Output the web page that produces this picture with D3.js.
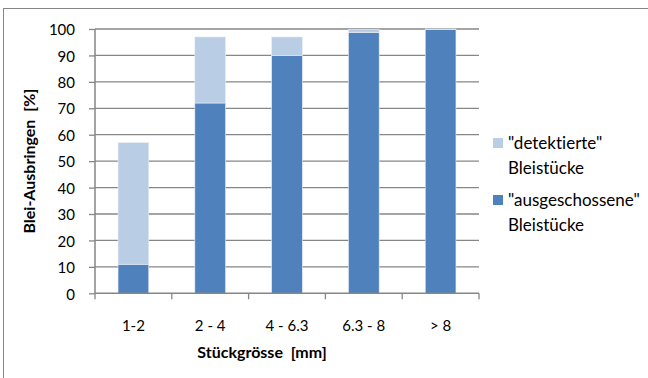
<!DOCTYPE html>
<html><head><meta charset="utf-8">
<script src="https://cdn.jsdelivr.net/npm/d3@7"></script>
<style>body{margin:0;background:#fff}svg{display:block}text{font-family:Lato,"Open Sans",sans-serif;fill:#000;font-variant-ligatures:none;font-feature-settings:"liga" 0,"clig" 0,"dlig" 0}</style>
</head><body>
<svg id="c" width="648" height="378"></svg>
<script>
const categories = ["1-2", "2 - 4", "4 - 6.3", "6.3 - 8", "> 8"];
const ausgeschossen = [11, 72, 90, 98.7, 99.8];
const detektiert = [46, 25, 7, 1.1, 0.2];
const yTicks = [0,10,20,30,40,50,60,70,80,90,100];
const seriesNames = ['"ausgeschossene"', '"detektierte"'];
const colors = ["#4F81BD", "#B9CDE5"];

const svg = d3.select("#c");
const L = 95, R = 479, T = 29, B = 293.3;
svg.append("rect").attr("x",3.5).attr("y",8.5).attr("width",700).attr("height",400)
  .attr("fill","none").attr("stroke","#868686").attr("stroke-width",1);

const x = d3.scaleBand().domain(categories).range([L,R]).paddingInner(0.6).paddingOuter(0.3);
const xb = d3.scaleBand().domain(categories).range([L,R]);
const y = d3.scaleLinear().domain([0,100]).range([B,T]);

// gridlines
svg.append("g").selectAll("line").data(yTicks.filter(d=>d>0)).join("line")
  .attr("x1",L).attr("x2",R).attr("y1",d=>y(d)).attr("y2",d=>y(d))
  .attr("stroke","#868686").attr("stroke-width",1.3);

const data = categories.map((c,i)=>({c, a:ausgeschossen[i], d:detektiert[i]}));
const stack = d3.stack().keys(["a","d"])(data);
svg.append("g").selectAll("g").data(stack).join("g").attr("fill",(d,i)=>colors[i])
  .selectAll("rect").data(d=>d).join("rect")
  .attr("x",d=>x(d.data.c)).attr("width",x.bandwidth())
  .attr("y",d=>y(d[1])).attr("height",d=>Math.max(0,y(d[0])-y(d[1])))
  .attr("stroke","#e8eef7").attr("stroke-width",0.6);

// y axis
const ya = svg.append("g").attr("transform",`translate(${L},0)`)
  .call(d3.axisLeft(y).tickValues(yTicks).tickSize(6).tickPadding(14));
ya.select(".domain").attr("stroke","#868686").attr("stroke-width",1.5).attr("d",`M-0,${T}V${B}`);
ya.selectAll(".tick line").attr("stroke","#868686").attr("stroke-width",1.3);
ya.selectAll(".tick text").attr("font-size",15).attr("font-family","Lato, sans-serif").attr("dy","0.38em");

// x axis
const xa = svg.append("g").attr("transform",`translate(0,${B})`);
xa.append("line").attr("x1",L).attr("x2",R).attr("stroke","#868686").attr("stroke-width",1.5);
const bounds = categories.map(c=>xb(c)).concat([R]);
xa.selectAll("line.t").data(bounds).join("line").attr("class","t")
  .attr("x1",d=>d).attr("x2",d=>d).attr("y1",0).attr("y2",6)
  .attr("stroke","#868686").attr("stroke-width",1.3);
xa.selectAll("text").data(categories).join("text")
  .attr("x",d=>xb(d)+xb.bandwidth()/2).attr("y",38).attr("text-anchor","middle")
  .attr("font-size",15).text(d=>d);

// titles
svg.append("text").attr("x",262).attr("y",358).attr("text-anchor","middle")
  .attr("font-size",16).attr("font-weight","bold").text("Stückgrösse\u00a0\u00a0[mm]");
svg.append("text").attr("transform",`translate(35,${(T+B)/2}) rotate(-90)`).attr("text-anchor","middle")
  .attr("font-size",16).attr("font-weight","bold").text("Blei-Ausbringen\u00a0\u00a0[%]");

// legend
const leg = [{n:seriesNames[1], c:colors[1], y:143},{n:seriesNames[0], c:colors[0], y:200}];
const lg = svg.append("g").selectAll("g").data(leg).join("g");
lg.append("rect").attr("x",493).attr("y",d=>d.y-5).attr("width",10).attr("height",10).attr("fill",d=>d.c);
lg.append("text").attr("x",508).attr("y",d=>d.y+6).attr("font-size",17).text(d=>d.n);
lg.append("text").attr("x",508).attr("y",d=>d.y+31).attr("font-size",17).text("Bleistücke");
</script>
</body></html>
